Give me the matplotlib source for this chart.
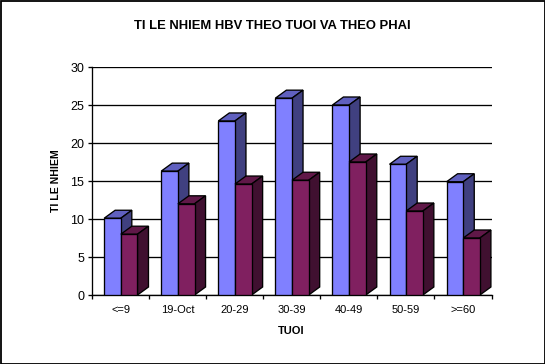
import matplotlib
matplotlib.use('Agg')
import matplotlib.pyplot as plt
from matplotlib.patches import Polygon, Rectangle
import numpy as np

plt.rcParams['font.family'] = ['Liberation Sans', 'DejaVu Sans']

nhom_tuoi = ['<=9', '19-Oct', '20-29', '30-39', '40-49', '50-59', '>=60']
nam = [10.1, 16.3, 22.9, 25.9, 25.0, 17.2, 14.9]
nu = [8.0, 12.0, 14.6, 15.1, 17.5, 11.05, 7.5]
y_ticks = [0, 5, 10, 15, 20, 25, 30]

W, H = 545, 364
fig = plt.figure(figsize=(W / 100, H / 100), dpi=100, facecolor='white')
ax = fig.add_axes([92.0 / W, 1 - 295.0 / H, 399.5 / W, 228.0 / H])
ax.set_xlim(0, 7)
ax.set_ylim(0, 30)

lw = 0.95
bar_w = 0.292
dx = 11 / (399.5 / 7)   # do sau 3D
dy = 8 / (228.0 / 30)


def bar3d(x, v, mau, mau_tren, mau_ben, z):
    # mat truoc, mat tren, mat ben
    ax.add_patch(Polygon([(x, v), (x + bar_w, v), (x + bar_w + dx, v + dy), (x + dx, v + dy)],
                         fc=mau_tren, ec='black', lw=lw, zorder=z))
    ax.add_patch(Polygon([(x + bar_w, 0), (x + bar_w + dx, dy), (x + bar_w + dx, v + dy), (x + bar_w, v)],
                         fc=mau_ben, ec='black', lw=lw, zorder=z))
    ax.add_patch(Rectangle((x, 0), bar_w, v, fc=mau, ec='black', lw=lw, zorder=z + 0.1))


for i in range(len(nhom_tuoi)):
    x0 = i + 0.5 - bar_w + 0.005
    bar3d(x0, nam[i], '#8080FF', '#6060BF', '#404080', 3 + i)
    bar3d(x0 + bar_w, nu[i], '#802060', '#601848', '#401030', 3.5 + i)

ax.set_yticks(y_ticks)
ax.set_xticks(np.arange(0, 8))
ax.set_xticklabels([])
ax.set_xticks(np.arange(len(nhom_tuoi)) + 0.5, minor=True)
ax.set_xticklabels(nhom_tuoi, minor=True, fontsize=8)
ax.tick_params(axis='x', which='minor', length=0, pad=7.5)
ax.tick_params(axis='x', which='major', length=3, width=lw, color='black')
ax.tick_params(axis='y', length=3, width=lw, labelsize=9, pad=2.5)
ax.grid(axis='y', color='black', lw=lw, zorder=1)
ax.set_axisbelow(True)
for s in ['top', 'right']:
    ax.spines[s].set_visible(False)
for s in ['left', 'bottom']:
    ax.spines[s].set_linewidth(lw)

fig.text(272 / W, 1 - 26 / H, 'TI LE NHIEM HBV THEO TUOI VA THEO PHAI',
         ha='center', va='center', fontsize=9.4, fontweight='bold')
fig.text(291.5 / W, 1 - 331 / H, 'TUOI', ha='center', va='center', fontsize=8, fontweight='bold')
fig.text(56 / W, 1 - 181 / H, 'TI LE NHIEM', ha='center', va='center', rotation=90,
         fontsize=7.6, fontweight='bold')

# khung ngoai
fig.add_artist(Rectangle((0.5 / W, 0.5 / H), (W - 1) / W, (H - 1) / H, transform=fig.transFigure,
                         fc='none', ec='black', lw=1.3))

fig.savefig('out.png', dpi=100, facecolor='white')
